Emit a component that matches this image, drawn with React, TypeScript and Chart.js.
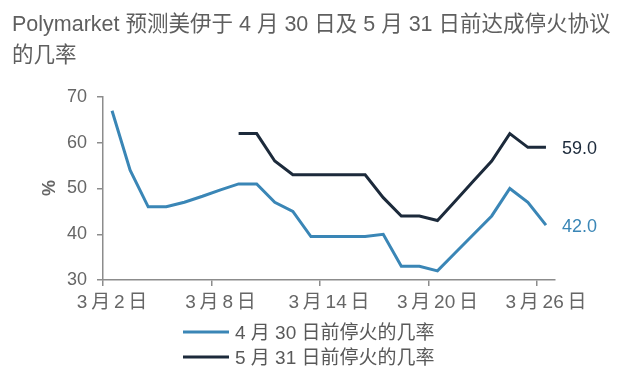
import React, { useEffect, useRef } from 'react';
import { Chart, registerables } from 'chart.js';

Chart.register(...registerables);

const titleLines = ['Polymarket 预测美伊于 4 月 30 日及 5 月 31 日前达成停火协议', '的几率'];
const yAxisTitle = '%';

const days = [
  '3\u2009月\u20092\u2009日', '3\u2009月\u20093\u2009日', '3\u2009月\u20094\u2009日', '3\u2009月\u20095\u2009日',
  '3\u2009月\u20096\u2009日', '3\u2009月\u20097\u2009日', '3\u2009月\u20098\u2009日', '3\u2009月\u20099\u2009日',
  '3\u2009月\u200910\u2009日', '3\u2009月\u200911\u2009日', '3\u2009月\u200912\u2009日', '3\u2009月\u200913\u2009日',
  '3\u2009月\u200914\u2009日', '3\u2009月\u200915\u2009日', '3\u2009月\u200916\u2009日', '3\u2009月\u200917\u2009日',
  '3\u2009月\u200918\u2009日', '3\u2009月\u200919\u2009日', '3\u2009月\u200920\u2009日', '3\u2009月\u200921\u2009日',
  '3\u2009月\u200922\u2009日', '3\u2009月\u200923\u2009日', '3\u2009月\u200924\u2009日', '3\u2009月\u200925\u2009日',
  '3\u2009月\u200926\u2009日',
];
const tickDays = ['3\u2009月\u20092\u2009日', '3\u2009月\u20098\u2009日', '3\u2009月\u200914\u2009日', '3\u2009月\u200920\u2009日', '3\u2009月\u200926\u2009日'];

const seriesNames = ['4 月 30 日前停火的几率', '5 月 31 日前停火的几率'];
const apr30 = [67, 54, 46, 46, 47, 48.3, 49.7, 51, 51, 47, 45, 39.5, 39.5, 39.5, 39.5, 40, 33, 33, 32, 36, 40, 44, 50, 47, 42];
const may31 = [null, null, null, null, null, null, null, 62, 62, 56, 53, 53, 53, 53, 53, 48, 44, 44, 43, 47.3, 51.7, 56, 62, 59, 59];
const yTicks = [30, 40, 50, 60, 70];

const BLUE = '#3a86b6';
const DARK = '#1c2a3b';
const AXIS = '#8c8c8c';
const TEXT = '#666666';
const FONT = '"Liberation Sans", Arial, "Noto Sans CJK SC", sans-serif';

const overlay = {
  id: 'overlay',
  afterDraw(chart: any) {
    const ctx = chart.ctx;
    ctx.save();
    // title
    ctx.fillStyle = '#5f5f5f';
    ctx.font = `21.5px ${FONT}`;
    ctx.textAlign = 'left';
    ctx.textBaseline = 'middle';
    titleLines.forEach((t, i) => ctx.fillText(t, 12, 25 + i * 31));
    // y axis title
    ctx.save();
    ctx.translate(50, 188);
    ctx.rotate(-Math.PI / 2);
    ctx.font = `bold 18px ${FONT}`;
    ctx.fillStyle = TEXT;
    ctx.textAlign = 'center';
    ctx.fillText(yAxisTitle, 0, 0);
    ctx.restore();
    // end labels
    chart.data.datasets.forEach((ds: any, i: number) => {
      const meta = chart.getDatasetMeta(i);
      const last = ds.data.length - 1;
      const pt = meta.data[last];
      ctx.font = `18px ${FONT}`;
      ctx.fillStyle = ds.borderColor;
      ctx.textAlign = 'left';
      ctx.fillText(Number(ds.data[last]).toFixed(1), pt.x + 16, pt.y + 1.5);
    });
    // legend
    chart.data.datasets.forEach((ds: any, i: number) => {
      const y = 332 + i * 25;
      ctx.strokeStyle = ds.borderColor;
      ctx.lineWidth = 3;
      ctx.beginPath();
      ctx.moveTo(183, y);
      ctx.lineTo(229, y);
      ctx.stroke();
      ctx.font = `19px ${FONT}`;
      ctx.fillStyle = '#595959';
      ctx.textAlign = 'left';
      ctx.fillText(ds.label, 235, y + 2);
    });
    ctx.restore();
  },
};

export default function App() {
  const ref = useRef<HTMLCanvasElement>(null);
  useEffect(() => {
    if (!ref.current) return;
    const chart = new Chart(ref.current, {
      type: 'line',
      data: {
        labels: days,
        datasets: [
          { label: seriesNames[0], data: apr30, borderColor: BLUE, backgroundColor: BLUE, borderWidth: 3, pointRadius: 0, tension: 0 },
          { label: seriesNames[1], data: may31, borderColor: DARK, backgroundColor: DARK, borderWidth: 3, pointRadius: 0, tension: 0, spanGaps: false },
        ],
      },
      options: {
        responsive: false,
        animation: false,
        layout: { padding: { top: 97, right: 75, bottom: 68, left: 0 } },
        plugins: { legend: { display: false }, title: { display: false }, tooltip: { enabled: false } },
        scales: {
          x: {
            type: 'category',
            offset: true,
            afterFit: (s: any) => { s.height = 30; },
            grid: {
              offset: true,
              drawOnChartArea: false,
              drawTicks: true,
              tickLength: 6,
              lineWidth: 1.5,
              color: (c: any) => (c.index !== undefined && tickDays.includes(days[c.index]) ? AXIS : 'rgba(0,0,0,0)'),
            },
            border: { display: true, color: AXIS, width: 1.5 },
            ticks: {
              autoSkip: false,
              maxRotation: 0,
              padding: 5,
              color: TEXT,
              font: { size: 19, family: FONT },
              callback: (_v: any, i: number) => (tickDays.includes(days[i]) ? days[i] : ''),
            },
          },
          y: {
            min: yTicks[0],
            max: yTicks[yTicks.length - 1],
            afterFit: (s: any) => { s.width = 103; },
            afterBuildTicks: (s: any) => { s.ticks = yTicks.map((v) => ({ value: v })); },
            grid: { drawOnChartArea: false, drawTicks: true, tickLength: 6, color: AXIS, lineWidth: 1.5 },
            border: { display: true, color: AXIS, width: 1.5 },
            ticks: { padding: 10, color: TEXT, font: { size: 18, family: FONT } },
          },
        },
      },
      plugins: [overlay],
    });
    return () => chart.destroy();
  }, []);
  return (
    <canvas
      ref={ref}
      width={630}
      height={378}
      style={{ position: 'absolute', left: 0, top: 0, width: 630, height: 378, display: 'block' }}
    />
  );
}
